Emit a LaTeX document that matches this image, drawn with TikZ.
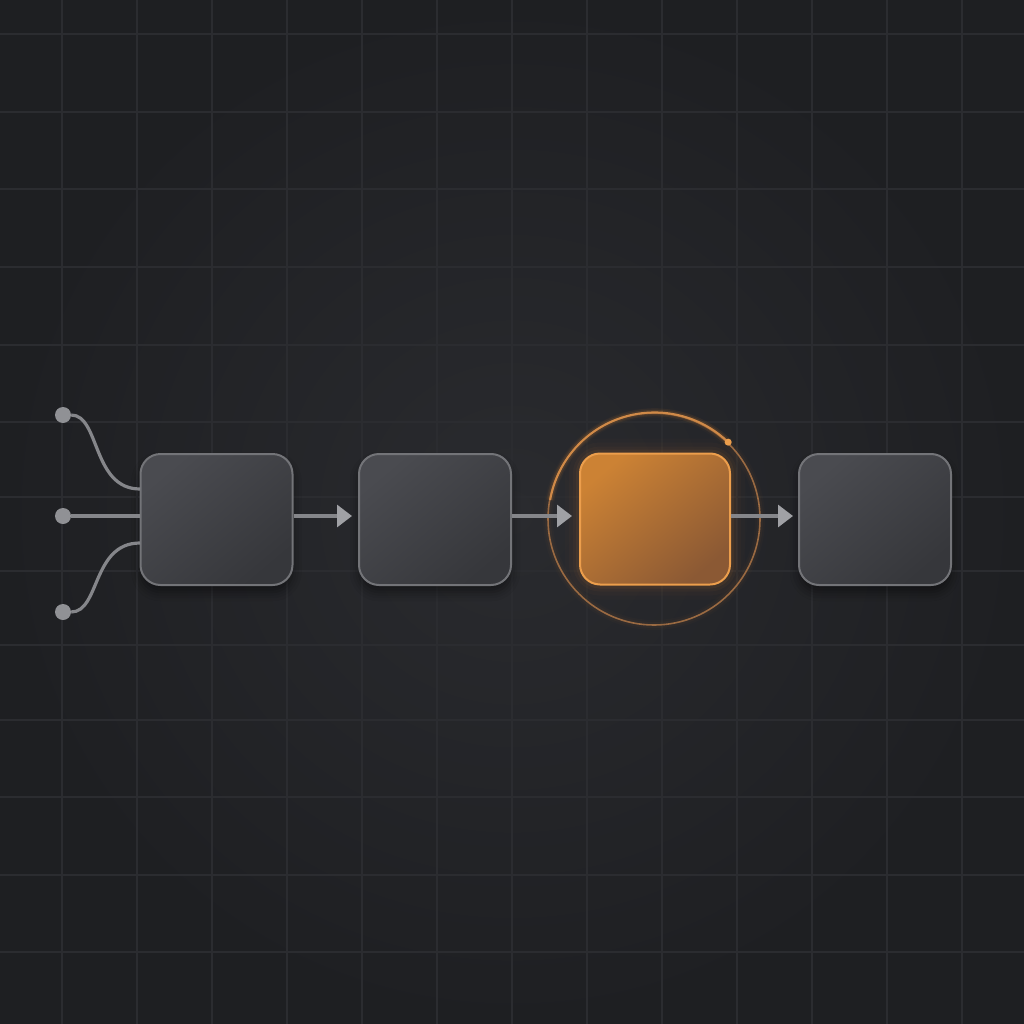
\documentclass[tikz,border=0pt]{standalone}
\usetikzlibrary{arrows.meta,shadows.blur,calc}
\definecolor{bgin}{HTML}{2A2B2F}
\definecolor{bgout}{HTML}{1E1F22}
\definecolor{gridc}{HTML}{2B2C30}
\definecolor{boxa}{HTML}{4A4B50}
\definecolor{boxb}{HTML}{36373B}
\definecolor{boxline}{HTML}{737478}
\definecolor{wirec}{HTML}{85868A}
\definecolor{tipc}{HTML}{A0A1A5}
\definecolor{dotc}{HTML}{909195}
\definecolor{ora}{HTML}{CC8234}
\definecolor{orb}{HTML}{8B5934}
\definecolor{oline}{HTML}{EC9E4C}
\definecolor{ringc}{HTML}{9A6A42}
\definecolor{ringhi}{HTML}{D08A48}
\definecolor{glowc}{HTML}{E0862E}
\begin{document}
\begin{tikzpicture}[x=1pt,y=-1pt,
  box/.style={rounded corners=20pt, minimum width=152pt, minimum height=131pt,
    inner sep=0pt, draw=boxline, line width=2pt,
    shading=axis, top color=boxa, bottom color=boxb, shading angle=40,
    blur shadow={shadow xshift=0pt, shadow yshift=-7pt, shadow blur radius=9pt, shadow opacity=45}},
  obox/.style={rounded corners=20pt, minimum width=150pt, minimum height=131pt,
    inner sep=0pt, draw=oline, line width=2pt,
    shading=axis, top color=ora, bottom color=orb, shading angle=40},
  indot/.style={circle, fill=dotc, minimum size=16pt, inner sep=0pt},
  wire/.style={draw=wirec, line width=3.2pt},
  arr/.style={wire, -{Triangle[length=15pt,width=22pt,color=tipc]}},
  gridl/.style={draw=gridc, line width=1.1pt}
]
\useasboundingbox (0,0) rectangle (1024,1024);
% background and grid
\shade[inner color=bgin, outer color=bgout] (0,0) rectangle (1024,1024);
\foreach \x in {62,137,...,962} \draw[gridl] (\x,0) -- (\x,1024);
\foreach \y in {34,112,189,267,345,422,497,571,645,720,797,875,952} \draw[gridl] (0,\y) -- (1024,\y);

% glows (behind the highlighted step)
\foreach \w/\o in {30/0.02, 22/0.03, 14/0.045, 8/0.07}
  \draw[glowc, line width=\w pt, opacity=\o, rounded corners=20pt]
    (580,453.5) rectangle (730,584.5);
\foreach \w/\o in {10/0.025, 6/0.04}
  \draw[glowc, line width=\w pt, opacity=\o] (654,519) circle[radius=106pt];

% nodes
\node[box] (b1) at (216.5,519.5) {};
\node[box] (b2) at (435,519.5) {};
\node[obox] (b3) at (655,519) {};
\node[box] (b4) at (875,519.5) {};
\node[circle, minimum size=212pt, inner sep=0pt, draw=ringc, line width=1.6pt] (ring) at (654,519) {};

\node[indot] (in1) at (63,415) {};
\node[indot] (in2) at (63,516) {};
\node[indot] (in3) at (63,612) {};
\coordinate (e1) at (140,489);
\coordinate (e3) at (140,543);

% highlighted arc on ring
\foreach \w/\o in {8/0.06, 5/0.1}
  \draw[glowc, line width=\w pt, opacity=\o] (ring.46) arc[start angle=46, end angle=170, radius=106pt];
\draw[ringhi, line width=2pt] (ring.46) arc[start angle=46, end angle=170, radius=106pt];
\node[circle, fill=oline, minimum size=7pt, inner sep=0pt] (hl) at (ring.46) {};

% inputs
\draw[wire] (in1) .. controls (100,415) and (92,489) .. (e1);
\draw[wire] (in2) -- (b1.west |- in2);
\draw[wire] (in3) .. controls (100,612) and (92,543) .. (e3);

% arrows
\draw[arr, shorten >=6pt] (b1.east |- in2) -- (b2.west |- in2);
\draw[arr, shorten >=7pt] (b2.east |- in2) -- (b3.west |- in2);
\draw[arr, shorten >=5pt] (b3.east |- in2) -- (b4.west |- in2);
\end{tikzpicture}
\end{document}
